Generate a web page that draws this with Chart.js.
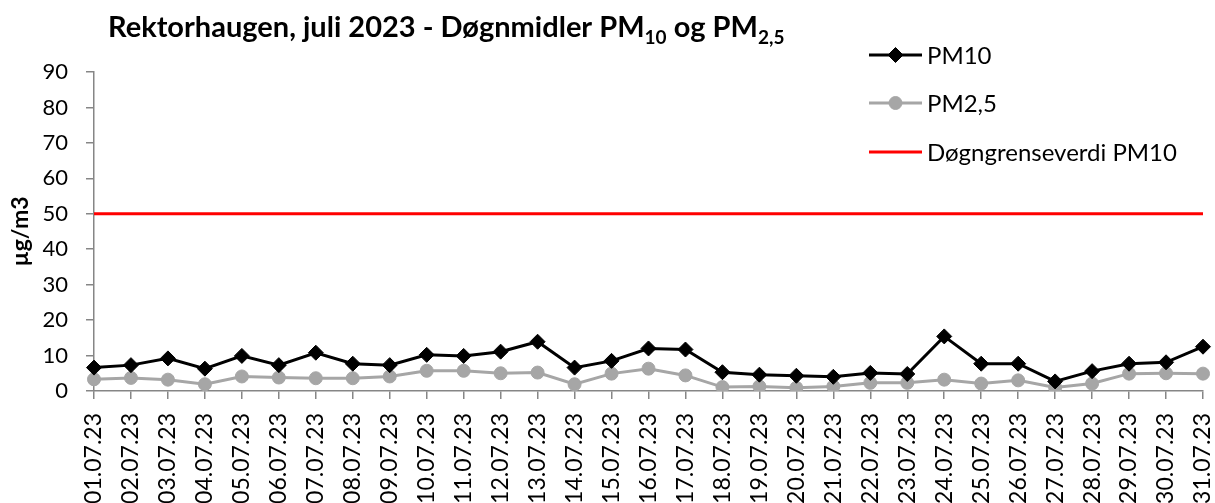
<!DOCTYPE html>
<html lang="no">
<head>
<meta charset="utf-8"/>
<title>Rektorhaugen juli 2023</title>
<script src="https://cdn.jsdelivr.net/npm/chart.js"></script>
<style>
    html, body { margin: 0; padding: 0; background: #fff; overflow: hidden; }
    #wrap { width: 1215px; height: 503px; position: relative; }
</style>
</head>
<body>
<div id="wrap"><canvas id="myChart"></canvas></div>
<script>
    // data
    var days = ['01.07.23','02.07.23','03.07.23','04.07.23','05.07.23','06.07.23','07.07.23','08.07.23',
                '09.07.23','10.07.23','11.07.23','12.07.23','13.07.23','14.07.23','15.07.23','16.07.23',
                '17.07.23','18.07.23','19.07.23','20.07.23','21.07.23','22.07.23','23.07.23','24.07.23',
                '25.07.23','26.07.23','27.07.23','28.07.23','29.07.23','30.07.23','31.07.23'];
    var pm10 = [6.6, 7.3, 9.2, 6.3, 9.9, 7.3, 10.8, 7.7, 7.3, 10.2, 9.9, 11.1, 13.9, 6.6, 8.5, 12.0,
                11.7, 5.3, 4.6, 4.3, 4.0, 5.1, 4.8, 15.4, 7.7, 7.7, 2.7, 5.6, 7.7, 8.1, 12.5];
    var pm25 = [3.3, 3.7, 3.2, 1.9, 4.1, 3.8, 3.6, 3.6, 4.1, 5.7, 5.7, 5.0, 5.2, 1.9, 4.9, 6.3,
                4.4, 1.1, 1.3, 0.9, 1.3, 2.3, 2.3, 3.2, 2.1, 3.0, 1.0, 2.1, 4.9, 5.0, 4.9];
    var limitValue = 50;
    var limitLine = days.map(function () { return limitValue; });
    var yTicks = [0, 10, 20, 30, 40, 50, 60, 70, 80, 90];

    var axisGrey = '#868686';
    var fontName = 'Lato, "Open Sans", sans-serif';

    // title with subscripts, drawn by hand
    var titleParts = [
        ['Rektorhaugen, juli 2023 - Døgnmidler PM', false],
        ['10', true],
        [' og PM', false],
        ['2,5', true]
    ];
    var titlePlugin = {
        id: 'subTitle',
        afterDraw: function (chart) {
            var ctx = chart.ctx;
            var x = 108, y = 37;
            ctx.save();
            ctx.fillStyle = '#000';
            ctx.textBaseline = 'alphabetic';
            ctx.textAlign = 'left';
            titleParts.forEach(function (p) {
                ctx.font = p[1] ? 'bold 19px ' + fontName : 'bold 29px ' + fontName;
                ctx.fillText(p[0], x, p[1] ? y + 7 : y);
                x += ctx.measureText(p[0]).width;
            });
            ctx.restore();
        }
    };

    // legend in the top right corner, as in the original
    var legendPlugin = {
        id: 'boxLegend',
        afterDraw: function (chart) {
            var ctx = chart.ctx;
            var rows = [55, 103, 152];
            ctx.save();
            chart.data.datasets.forEach(function (ds, i) {
                var y = rows[i];
                ctx.strokeStyle = ds.borderColor;
                ctx.lineWidth = 3;
                ctx.beginPath();
                ctx.moveTo(869, y);
                ctx.lineTo(922, y);
                ctx.stroke();
                if (ds.pointRadius > 0) {
                    ctx.fillStyle = ds.backgroundColor;
                    ctx.strokeStyle = ds.borderColor;
                    ctx.lineWidth = 1;
                    Chart.helpers.drawPoint(ctx, {
                        pointStyle: ds.pointStyle,
                        radius: ds.pointRadius,
                        borderWidth: 1,
                        rotation: 0
                    }, 895.5, y);
                }
                ctx.fillStyle = '#000';
                ctx.font = '24px ' + fontName;
                ctx.textBaseline = 'middle';
                ctx.textAlign = 'left';
                ctx.fillText(ds.label, 927, y + 1);
            });
            ctx.restore();
        }
    };

    var ctx = document.getElementById('myChart');
    var mychart = new Chart(ctx, {
        type: 'line',
        data: {
            labels: days,
            datasets: [
                {
                    label: 'PM10',
                    data: pm10,
                    borderColor: '#000000',
                    backgroundColor: '#000000',
                    borderWidth: 3,
                    pointStyle: 'rectRot',
                    pointRadius: 7.5,
                    pointBorderWidth: 1,
                    tension: 0
                },
                {
                    label: 'PM2,5',
                    data: pm25,
                    borderColor: '#A6A6A6',
                    backgroundColor: '#A6A6A6',
                    borderWidth: 3,
                    pointStyle: 'circle',
                    pointRadius: 6.5,
                    pointBorderWidth: 1,
                    tension: 0
                },
                {
                    label: 'Døgngrenseverdi PM10',
                    data: limitLine,
                    borderColor: '#FF0000',
                    backgroundColor: '#FF0000',
                    borderWidth: 3,
                    pointRadius: 0,
                    tension: 0
                }
            ]
        },
        options: {
            responsive: true,
            maintainAspectRatio: false,
            animation: false,
            layout: { padding: { top: 72, right: 12, left: 0, bottom: 0 } },
            plugins: {
                legend: { display: false },
                title: { display: false },
                tooltip: { enabled: false }
            },
            scales: {
                x: {
                    offset: false,
                    grid: { display: true, drawOnChartArea: false, drawTicks: true, tickLength: 8, color: axisGrey, lineWidth: 1.5 },
                    border: { display: true, color: axisGrey, width: 1.5 },
                    ticks: {
                        color: '#000',
                        font: { family: fontName, size: 23 },
                        minRotation: 90,
                        maxRotation: 90,
                        autoSkip: false,
                        padding: 14
                    },
                    afterFit: function (scale) {
                        scale.height = 112;
                        scale.paddingLeft = 0;
                        scale.paddingRight = 0;
                    }
                },
                y: {
                    min: 0,
                    max: 90,
                    afterBuildTicks: function (scale) {
                        scale.ticks = yTicks.map(function (v) { return { value: v }; });
                    },
                    grid: { display: true, drawOnChartArea: false, drawTicks: true, tickLength: 8, color: axisGrey, lineWidth: 1.5 },
                    border: { display: true, color: axisGrey, width: 1.5 },
                    ticks: {
                        color: '#000',
                        font: { family: fontName, size: 22 },
                        padding: 18
                    },
                    title: {
                        display: true,
                        text: 'µg/m3',
                        color: '#000',
                        font: { family: fontName, size: 23, weight: 'bold' },
                        padding: { top: 7, bottom: 0 }
                    },
                    afterFit: function (scale) { scale.width = 94; }
                }
            }
        },
        plugins: [titlePlugin, legendPlugin]
    });
</script>
</body>
</html>
